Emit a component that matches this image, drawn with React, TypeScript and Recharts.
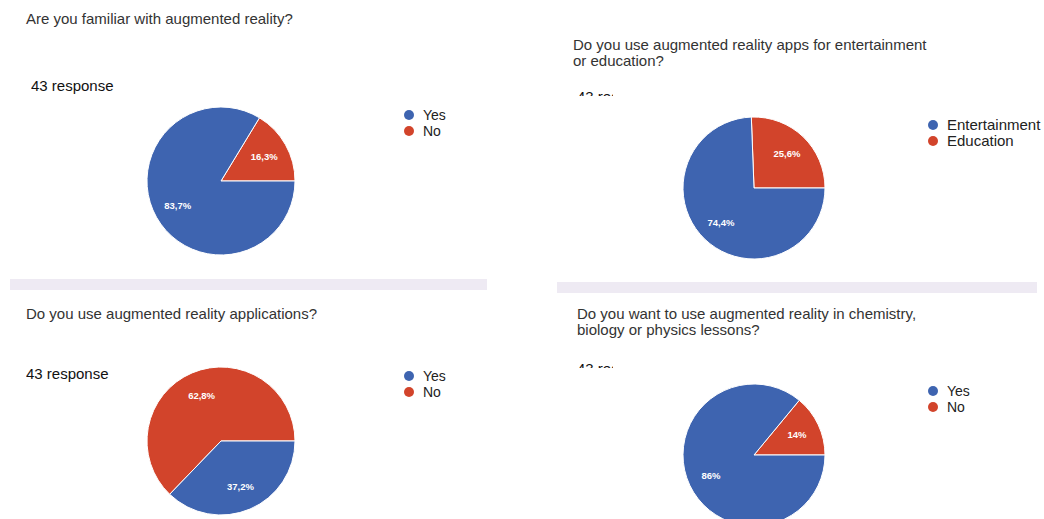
import { Cell, Pie, PieChart } from 'recharts';

const BLUE = '#3e64b0';
const RED = '#d2442b';

const YES_NO = ['Yes', 'No'];
const USE_FOR = ['Entertainment', 'Education'];

// percentages, in legend order (first = blue, second = red)
const FAMILIAR_PCT = [83.7, 16.3];
const USE_FOR_PCT = [74.4, 25.6];
const USE_APPS_PCT = [37.2, 62.8];
const LESSONS_PCT = [86, 14];

const TITLES = [
  ['Are you familiar with augmented reality?'],
  ['Do you use augmented reality apps for entertainment', 'or education?'],
  ['Do you use augmented reality applications?'],
  ['Do you want to use augmented reality in chemistry,', 'biology or physics lessons?'],
];
const RESPONSES = '43 response';

const FONT = '"Liberation Sans", Arial, sans-serif';
const RAD = Math.PI / 180;

const fmt = (v: number) => String(v).replace('.', ',') + '%';

// red slice first so it starts at 3 o'clock and runs counter-clockwise
const toData = (names: string[], pct: number[]) =>
  [1, 0].map((i) => ({ name: names[i], value: pct[i], color: i === 0 ? BLUE : RED }));

function sliceLabel(p: any) {
  const r = p.outerRadius * 0.67;
  const x = p.cx + r * Math.cos(-p.midAngle * RAD);
  const y = p.cy + r * Math.sin(-p.midAngle * RAD);
  return (
    <text x={x} y={y} fill="#fff" fontSize={9.5} fontWeight={600} fontFamily={FONT} textAnchor="middle" dominantBaseline="central">
      {fmt(p.value)}
    </text>
  );
}

function PieBox({ names, pct, cx, cy, r }: { names: string[]; pct: number[]; cx: number; cy: number; r: number }) {
  const size = 2 * r + 20;
  const data = toData(names, pct);
  return (
    <div style={{ position: 'absolute', left: cx - size / 2, top: cy - size / 2 }}>
      <PieChart width={size} height={size}>
        <Pie
          data={data}
          dataKey="value"
          cx="50%"
          cy="50%"
          outerRadius={r}
          stroke="#fff"
          strokeWidth={1}
          label={sliceLabel}
          labelLine={false}
          isAnimationActive={false}
        >
          {data.map((d) => (
            <Cell key={d.name} fill={d.color} />
          ))}
        </Pie>
      </PieChart>
    </div>
  );
}

function LegendBox({ names, x, y, fontSize }: { names: string[]; x: number; y: number; fontSize: number }) {
  return (
    <div style={{ position: 'absolute', left: x, top: y, fontFamily: FONT, fontSize, color: '#222', lineHeight: '16px' }}>
      {names.map((n, i) => (
        <div key={n} style={{ display: 'flex', alignItems: 'center' }}>
          <span style={{ width: 10, height: 10, borderRadius: 5, background: i === 0 ? BLUE : RED, marginRight: 9 }} />
          {n}
        </div>
      ))}
    </div>
  );
}

function Title({ lines, x, y }: { lines: string[]; x: number; y: number }) {
  return (
    <div style={{ position: 'absolute', left: x, top: y, fontFamily: FONT, fontSize: 15, color: '#333', lineHeight: '16px', whiteSpace: 'nowrap' }}>
      {lines.map((l) => (
        <div key={l}>{l}</div>
      ))}
    </div>
  );
}

// the right-hand screenshots cut this line off, so only its top shows
function Responses({ x, y, clip }: { x: number; y: number; clip?: boolean }) {
  return (
    <div
      style={{
        position: 'absolute',
        left: x,
        top: y,
        fontFamily: FONT,
        fontSize: 15,
        color: '#111',
        lineHeight: '18px',
        whiteSpace: 'nowrap',
        overflow: 'hidden',
        width: clip ? 36 : undefined,
        height: clip ? 8 : undefined,
      }}
    >
      {RESPONSES}
    </div>
  );
}

export default function App() {
  return (
    <div style={{ position: 'absolute', left: 0, top: 0, width: 1044, height: 519, overflow: 'hidden', background: '#fff' }}>
      <Title lines={TITLES[0]} x={26} y={11} />
      <Responses x={31} y={77} />
      <PieBox names={YES_NO} pct={FAMILIAR_PCT} cx={221} cy={181} r={74} />
      <LegendBox names={YES_NO} x={404} y={107} fontSize={14} />

      <Title lines={TITLES[1]} x={573} y={37} />
      <Responses x={577} y={88} clip />
      <PieBox names={USE_FOR} pct={USE_FOR_PCT} cx={754} cy={188} r={71} />
      <LegendBox names={USE_FOR} x={928} y={117} fontSize={15} />

      <div style={{ position: 'absolute', left: 10, top: 279, width: 477, height: 11, background: '#eeeaf3' }} />
      <div style={{ position: 'absolute', left: 557, top: 282, width: 480, height: 11, background: '#eeeaf3' }} />

      <Title lines={TITLES[2]} x={26} y={306} />
      <Responses x={26} y={365} />
      <PieBox names={YES_NO} pct={USE_APPS_PCT} cx={221} cy={441} r={74} />
      <LegendBox names={YES_NO} x={404} y={368} fontSize={14} />

      <Title lines={TITLES[3]} x={577} y={306} />
      <Responses x={577} y={360} clip />
      <PieBox names={YES_NO} pct={LESSONS_PCT} cx={754} cy={455} r={71} />
      <LegendBox names={YES_NO} x={928} y={383} fontSize={14} />
    </div>
  );
}
